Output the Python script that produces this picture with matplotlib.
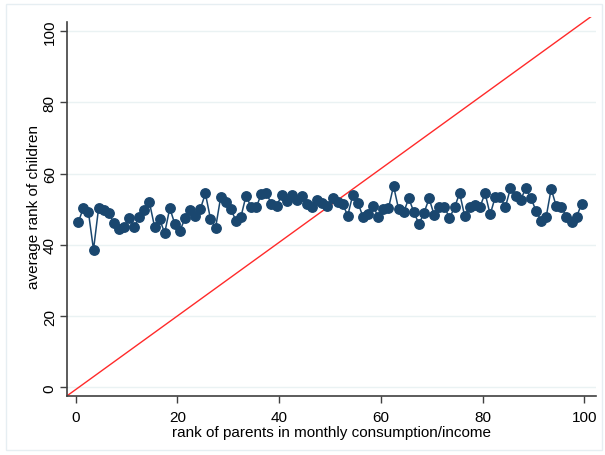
import numpy as np
import matplotlib
matplotlib.use("Agg")
import matplotlib.pyplot as plt
from matplotlib.patches import Rectangle

plt.rcParams['font.family'] = ['Liberation Sans', 'DejaVu Sans']

# parent rank (percentile bins) and average child rank
parent_rank = np.arange(100) + 0.5
child_rank = [
    46.3, 50.3, 49.2, 38.6, 50.3, 49.9, 49.0, 46.1, 44.4, 44.9,
    47.6, 45.0, 47.8, 49.8, 51.9, 45.1, 47.2, 43.3, 50.3, 45.8,
    44.0, 47.4, 49.7, 48.2, 50.0, 54.4, 47.3, 44.7, 53.3, 51.9,
    50.0, 46.8, 47.9, 53.8, 50.5, 50.5, 54.3, 54.5, 51.4, 50.9,
    53.9, 52.2, 54.0, 52.7, 53.8, 51.5, 50.7, 52.5, 51.6, 51.0,
    53.0, 51.9, 51.4, 48.2, 54.1, 51.8, 47.8, 48.6, 50.8, 47.8,
    50.0, 50.2, 56.5, 50.0, 49.2, 53.0, 49.2, 45.8, 49.0, 53.0,
    48.3, 50.7, 50.7, 47.5, 50.5, 54.5, 48.0, 50.7, 51.1, 50.6,
    54.5, 48.5, 53.4, 53.3, 50.6, 55.9, 53.6, 52.7, 55.8, 53.2,
    49.6, 46.8, 47.7, 55.7, 50.8, 50.5, 47.9, 46.4, 47.9, 51.5,
]

# 45 degree reference line
diag_x = [-1.8, 101.3]
diag_y = [-2.5, 104.0]

xticks = [0, 20, 40, 60, 80, 100]
yticks = [0, 20, 40, 60, 80, 100]

fig = plt.figure(figsize=(6.05, 4.56), dpi=100)
ax = fig.add_axes([0.110, 0.129, 0.875, 0.832])

# light frame around the whole graph region
fig.patches.append(Rectangle((0.010, 0.012), 0.985, 0.976, transform=fig.transFigure,
                             fill=False, edgecolor='#e6eef2', linewidth=1.0))

for t in yticks:
    ax.axhline(t, color='#eaf2f3', linewidth=1.0, zorder=0)

ax.plot(parent_rank, child_rank, color='#1a476f', linewidth=1.1,
        marker='o', markersize=6.8, zorder=3)
ax.plot(diag_x, diag_y, color='#ff2a2a', linewidth=1.0, zorder=2)

ax.set_xlim(-1.8, 102.3)
ax.set_ylim(-2.5, 104.0)
ax.set_xticks(xticks)
ax.set_yticks(yticks)
ax.tick_params(axis='both', direction='out', length=5, width=1, color='#404040',
               labelsize=11)
ax.tick_params(axis='y', pad=2)
ax.tick_params(axis='x', pad=5)
for lab in ax.get_yticklabels():
    lab.set_rotation(90)
    lab.set_va('center')

for s in ['top', 'right']:
    ax.spines[s].set_visible(False)
for s in ['left', 'bottom']:
    ax.spines[s].set_color('#404040')
    ax.spines[s].set_linewidth(1.2)
ax.spines['left'].set_bounds(-2.5, 102.5)

ax.set_xlabel('rank of parents in monthly consumption/income', fontsize=11, labelpad=1)
ax.set_ylabel('average rank of children', fontsize=11, labelpad=1)

fig.savefig('out.png', dpi=100)
